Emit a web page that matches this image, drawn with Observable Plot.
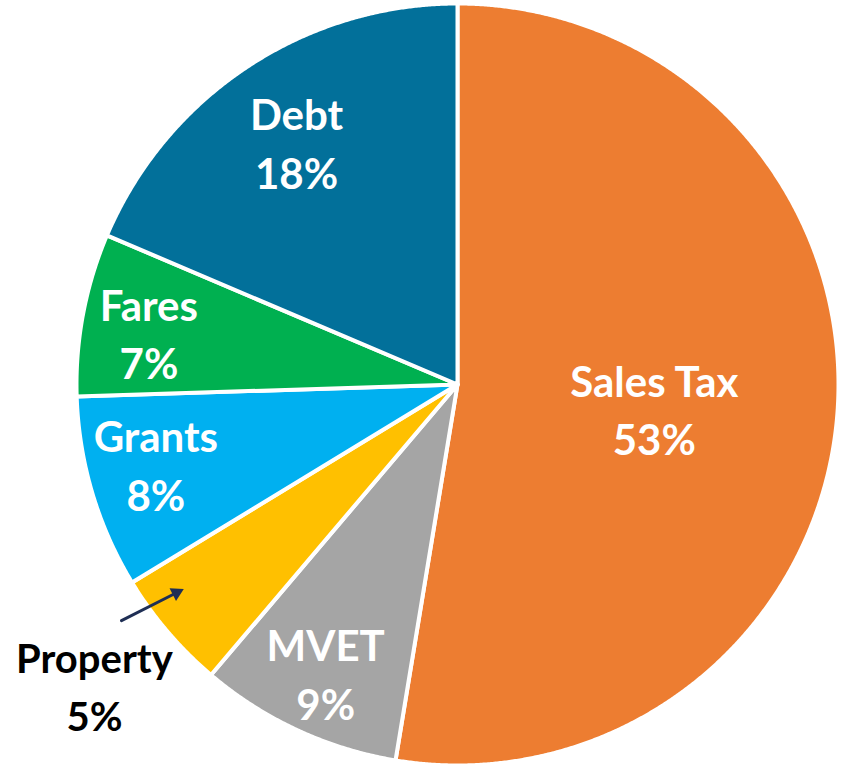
<!DOCTYPE html>
<html>
<head>
<meta charset="utf-8">
<script src="https://cdn.jsdelivr.net/npm/d3@7"></script>
<script src="https://cdn.jsdelivr.net/npm/@observablehq/plot@0.6"></script>
<style>
  html, body { margin: 0; padding: 0; background: #ffffff; }
  #chart svg { display: block; }
</style>
</head>
<body>
<div id="chart"></div>
<script>
// ---- data (clockwise from 12 o'clock) ----
const names = ["Sales Tax", "MVET", "Property", "Grants", "Fares", "Debt"];
const shares = [52.6, 8.6, 5.1, 8.2, 6.9, 18.6];
const pctLabels = ["53%", "9%", "5%", "8%", "7%", "18%"];

// ---- styles ----
const colors = ["#ED7D31", "#A5A5A5", "#FFC000", "#00B0F0", "#00B050", "#02709A"];
const labelRadius = [0.52, 0.83, 1.235, 0.818, 0.822, 0.766];
const labelNudgeDeg = [1.9, -0.2, 1.0, 2.0, -0.8, 0];
const outsideLabel = [false, false, true, false, false, false];
const W = 842, H = 765, R = 381, CX = 457, CY = 384;
const deg = Math.PI / 180;

// ---- geometry built from the data ----
const arcs = d3.pie().sort(null).value(d => d)(shares);
const slicePts = [];
arcs.forEach((a, i) => {
  slicePts.push({name: names[i], x: 0, y: 0});
  const n = Math.max(2, Math.ceil((a.endAngle - a.startAngle) / 0.004));
  for (let j = 0; j <= n; j++) {
    const t = a.startAngle + (a.endAngle - a.startAngle) * j / n;
    slicePts.push({name: names[i], x: R * Math.sin(t), y: R * Math.cos(t)});
  }
  slicePts.push({name: names[i], x: 0, y: 0});
});

const labels = arcs.map((a, i) => {
  const m = (a.startAngle + a.endAngle) / 2 + labelNudgeDeg[i] * deg;
  const k = labelRadius[i] * R;
  return {name: names[i], text: names[i] + "\n" + pctLabels[i], x: k * Math.sin(m), y: k * Math.cos(m), outside: outsideLabel[i]};
});

// pointer arrow for the small outside-labelled slice
const pi = outsideLabel.indexOf(true);
const pm = (arcs[pi].startAngle + arcs[pi].endAngle) / 2;
const tailA = pm + 5.4 * deg, tipA = pm + 3.7 * deg;
const tail = {x: 1.078 * R * Math.sin(tailA), y: 1.078 * R * Math.cos(tailA)};
const tip = {x: 0.894 * R * Math.sin(tipA), y: 0.894 * R * Math.cos(tipA)};
const len = Math.hypot(tip.x - tail.x, tip.y - tail.y);
const ux = (tip.x - tail.x) / len, uy = (tip.y - tail.y) / len;
const headC = {x: tip.x - ux * 9.3, y: tip.y - uy * 9.3, rot: Math.atan2(ux, uy) / deg};
const shaft = [{x: tail.x, y: tail.y}, {x: tip.x - ux * 12, y: tip.y - uy * 12}];

const chart = Plot.plot({
  width: W,
  height: H,
  margin: 0,
  x: {domain: [-CX, W - CX], axis: null},
  y: {domain: [-(H - CY), CY], axis: null},
  color: {domain: names, range: colors},
  style: {fontFamily: "Lato, 'Open Sans', sans-serif", background: "white"},
  marks: [
    Plot.line(slicePts, {x: "x", y: "y", z: "name", fill: "name", stroke: "white", strokeWidth: 4, strokeLinejoin: "round", curve: "linear"}),
    Plot.text(labels.filter(d => !d.outside), {x: "x", y: "y", text: "text", fill: "white", fontSize: 42, fontWeight: "bold", lineHeight: 1.4}),
    Plot.text(labels.filter(d => d.outside), {x: "x", y: "y", text: "text", fill: "black", fontSize: 40, fontWeight: "bold", lineHeight: 1.45}),
    Plot.line(shaft, {x: "x", y: "y", stroke: "#1F2F55", strokeWidth: 3}),
    Plot.dot([headC], {x: "x", y: "y", rotate: "rot", symbol: "triangle2", r: 6.8, fill: "#1F2F55", stroke: "none"})
  ]
});
document.getElementById("chart").appendChild(chart);
</script>
</body>
</html>
